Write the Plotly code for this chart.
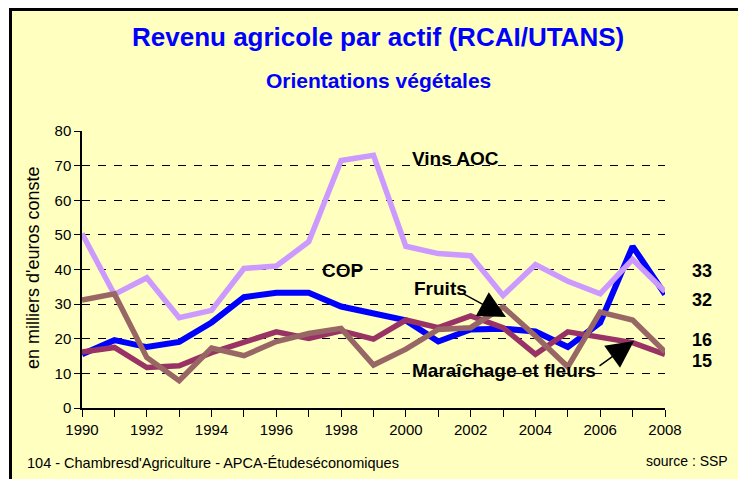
import plotly.graph_objects as go

years = list(range(1990, 2009))
vins_aoc = [50.4, 32.8, 37.6, 26.1, 28.2, 40.3, 41.0, 48.0, 71.5, 73.0,
            46.7, 44.6, 44.0, 32.5, 41.4, 36.6, 33.0, 42.9, 33.6]
cop = [15.5, 19.6, 17.6, 19.1, 24.7, 32.0, 33.3, 33.3, 29.3, 27.1,
       25.3, 19.2, 22.7, 22.9, 22.1, 17.6, 24.7, 46.7, 32.8]
fruits = [31.2, 33.0, 14.6, 7.9, 17.3, 15.1, 19.2, 21.5, 23.0, 12.4,
          17.0, 22.7, 23.2, 29.2, 20.8, 11.9, 27.7, 25.4, 16.2]
maraichage = [16.2, 17.5, 11.7, 12.2, 16.0, 19.2, 22.0, 20.1, 22.3, 19.9,
              25.4, 23.2, 26.6, 23.2, 15.5, 22.0, 20.6, 18.9, 15.5]
end_labels = ["33", "32", "16", "15"]
x_tick_labels = [str(y) for y in range(1990, 2009, 2)]
y_tick_vals = list(range(0, 81, 10))

W, H = 738, 479
L, R, T, B = 82, 665, 131, 408
pw, ph = R - L, B - T


def px(x):
    return (x - L) / pw


def py(y):
    return (B - y) / ph


BG = "#FFFFC0"
SANS = "Liberation Sans, Arial"

fig = go.Figure()
series = [
    ("COP", cop, "#0000FF", 6),
    ("Vins AOC", vins_aoc, "#CC99FF", 5.5),
    ("Maraîchage et fleurs", maraichage, "#993366", 5.5),
    ("Fruits", fruits, "#996666", 5.5),
]
for name, vals, col, w in series:
    fig.add_trace(go.Scatter(x=years, y=vals, mode="lines", name=name,
                             line=dict(color=col, width=w), showlegend=False))

ann = []
ann.append(dict(text="<b>Revenu agricole par actif (RCAI/UTANS)</b>", xref="paper", yref="paper",
                x=px(378), y=py(37), showarrow=False, xanchor="center", yanchor="middle",
                font=dict(family=SANS, size=26, color="#0000FF")))
ann.append(dict(text="<b>Orientations végétales</b>", xref="paper", yref="paper",
                x=px(378), y=py(80), showarrow=False, xanchor="center", yanchor="middle",
                font=dict(family=SANS, size=21, color="#0000FF")))
ann.append(dict(text="en milliers d'euros conste", xref="paper", yref="paper",
                x=px(33), y=py(268), showarrow=False, textangle=-90,
                xanchor="center", yanchor="middle",
                font=dict(family=SANS, size=18, color="#000000")))

lab_font = dict(family=SANS, size=19, color="#000000")
for txt, cx, cy in [("Vins AOC", 455, 158), ("COP", 343, 270), ("Fruits", 440, 288),
                    ("Maraîchage et fleurs", 504, 370)]:
    ann.append(dict(text="<b>%s</b>" % txt, xref="paper", yref="paper", x=px(cx), y=py(cy),
                    showarrow=False, xanchor="center", yanchor="middle", font=lab_font))

end_font = dict(family=SANS, size=18, color="#000000")
for txt, cy in zip(end_labels, [271, 300, 340, 361]):
    ann.append(dict(text="<b>%s</b>" % txt, xref="paper", yref="paper", x=px(702), y=py(cy),
                    showarrow=False, xanchor="center", yanchor="middle", font=end_font,
                    borderpad=0))

# arrows
for (tx, ty), (sx, sy) in [((506, 317), (462, 293)), ((634, 341), (598, 367))]:
    ann.append(dict(text="", xref="paper", yref="paper", x=px(tx), y=py(ty),
                    ax=sx - tx, ay=sy - ty, axref="pixel", ayref="pixel",
                    showarrow=True, arrowhead=2, arrowsize=3.6, arrowwidth=1.5,
                    arrowcolor="#000000", standoff=0))

ann.append(dict(text="104 - Chambresd'Agriculture - APCA-Étudeséconomiques", xref="paper", yref="paper",
                x=px(25), y=py(463), showarrow=False, xanchor="left", yanchor="middle",
                font=dict(family=SANS, size=14.5, color="#000000")))
ann.append(dict(text="source : SSP", xref="paper", yref="paper",
                x=px(730), y=py(461), showarrow=False, xanchor="right", yanchor="middle",
                font=dict(family=SANS, size=14, color="#000000")))

shapes = [
    dict(type="rect", xref="paper", yref="paper", x0=px(-5), x1=px(W + 5), y0=py(8), y1=py(-5),
         fillcolor="white", line=dict(width=0), layer="above"),
    dict(type="rect", xref="paper", yref="paper", x0=px(-5), x1=px(9), y0=py(H + 5), y1=py(-5),
         fillcolor="white", line=dict(width=0), layer="above"),
    dict(type="line", xref="paper", yref="paper", x0=px(10.5), x1=px(10.5), y0=py(H + 5), y1=py(8),
         line=dict(color="black", width=3), layer="above"),
    dict(type="line", xref="paper", yref="paper", x0=px(9), x1=px(W + 5), y0=py(9.5), y1=py(9.5),
         line=dict(color="black", width=3), layer="above"),
]

fig.update_layout(
    width=W, height=H,
    margin=dict(l=L, r=W - R, t=T, b=H - B),
    paper_bgcolor=BG, plot_bgcolor=BG,
    annotations=ann, shapes=shapes,
    xaxis=dict(range=[1990, 2008], tickvals=list(range(1990, 2009, 2)), ticktext=x_tick_labels,
               ticks="outside", ticklen=7, tickcolor="black", tickwidth=1,
               minor=dict(dtick=1, tick0=1990, ticks="outside", ticklen=7, tickcolor="black", showgrid=False),
               showline=True, linecolor="black", linewidth=1.5, showgrid=False, zeroline=False,
               tickfont=dict(family=SANS, size=15, color="black")),
    yaxis=dict(range=[0, 80], tickvals=y_tick_vals, ticks="outside", ticklen=6, tickcolor="black",
               showline=True, linecolor="black", linewidth=1.5,
               showgrid=True, gridcolor="black", gridwidth=1, griddash="8px,8px", zeroline=False,
               tickfont=dict(family=SANS, size=15, color="black")),
)

fig.write_html("out.html", config={"displayModeBar": False},
               post_script="document.body.style.margin='0px';")
